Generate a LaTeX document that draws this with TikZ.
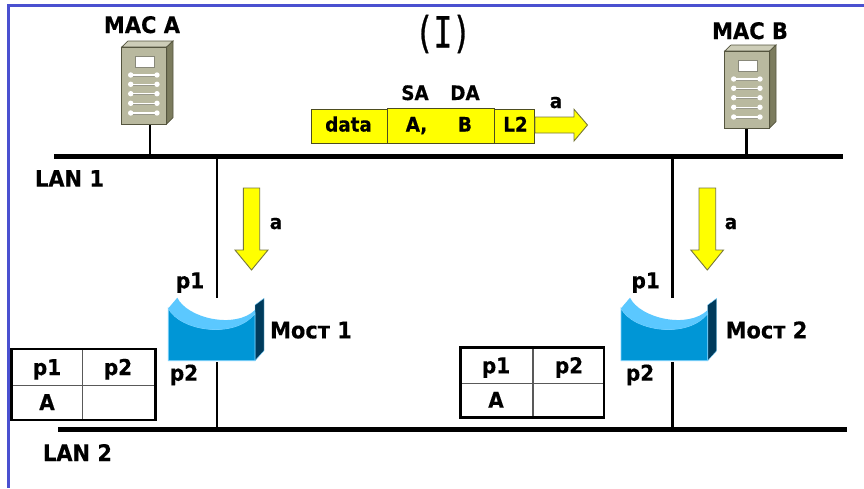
\documentclass[tikz,border=0pt]{standalone}
\usepackage{fontspec}
\setmainfont[BoldFeatures={FakeStretch=0.92,FakeBold=0.35}]{DejaVu Sans}
\newfontfamily\titlefont[FakeStretch=0.72,FakeBold=0.6]{DejaVu Sans Mono}
\definecolor{frameblue}{HTML}{4A50D0}
\definecolor{srvfront}{HTML}{B9B99F}
\definecolor{srvtop}{HTML}{CDCDB8}
\definecolor{srvside}{HTML}{7C7C5E}
\definecolor{srvedge}{HTML}{55553F}
\definecolor{brfront}{HTML}{0096D6}
\definecolor{brlight}{HTML}{5BC8FF}
\definecolor{brside}{HTML}{003B5C}
\definecolor{brrim}{HTML}{7FD4FF}
\definecolor{pktyellow}{HTML}{FFFF00}
\definecolor{pktedge}{HTML}{4D4D20}
\definecolor{arredge}{HTML}{77773A}
\tikzset{
  lbl/.style={anchor=base,inner sep=0pt,font=\fontsize{22.8}{23}\selectfont\bfseries},
  lblp/.style={anchor=base,inner sep=0pt,font=\fontsize{21.8}{22}\selectfont\bfseries},
  lbls/.style={anchor=base,inner sep=0pt,font=\fontsize{19.9}{20}\selectfont\bfseries},
  bus/.style={line width=5.5pt,black},
  drop/.style={line width=2.6pt,black},
  pkt/.style={draw=pktedge,line width=0.9pt,fill=pktyellow},
  yarrow/.style={draw=arredge,line width=0.9pt,fill=pktyellow},
  tblouter/.style={draw=black,line width=2.6pt},
  tblinner/.style={draw=black!65,line width=1.1pt},
  server/.pic={
    \fill[srvtop,draw=srvedge,line width=0.7pt] (0,0) -- (6.3,-6) -- (51.3,-6) -- (45,0) -- cycle;
    \fill[srvside,draw=srvedge,line width=0.7pt] (45,0) -- (51.3,-6) -- (51.3,70.5) -- (45,77) -- cycle;
    \fill[srvfront,draw=srvedge,line width=0.9pt] (0,0) rectangle (45,77);
    \fill[white,draw=srvedge!70,line width=0.6pt] (13.8,9) rectangle (33,20);
    \foreach \yy in {28,37.3,46.7,56.3,66}{
      \draw[white,line width=1.2pt] (9,\yy) -- (35.3,\yy);
      \draw[srvedge!60,line width=0.6pt] (9,\yy+1) -- (35.3,\yy+1);
      \fill[white] (9,\yy) circle (2.7) (35.3,\yy) circle (2.7);
    }
  },
  bridge/.pic={
    \fill[brside,draw=brrim,line width=0.4pt] (86.7,-3.3) -- (95.7,-10) -- (95.7,42.4) -- (86.7,52.4) -- cycle;
    \fill[brfront,draw=brrim,line width=0.7pt] (0,0) .. controls (12,23) and (67,31) .. (86.7,5) -- (86.7,52.4) -- (0,52.4) -- cycle;
    \fill[brlight] (0,0) -- (9,-10.6) .. controls (19,10) and (67,21) .. (86.7,1.7) -- (86.7,5) .. controls (67,31) and (12,23) .. (0,0) -- cycle;
  }
}
\begin{document}
\begin{tikzpicture}[x=1pt,y=-1pt]
\useasboundingbox[fill=white] (0,0) rectangle (864,488);
% slide frame
\fill[frameblue] (6.5,3.5) rectangle (864,6.8);
\fill[frameblue] (6.5,3.5) rectangle (9.6,488);

% coordinates
\coordinate (lan1w) at (54,156.7);
\coordinate (lan1e) at (843,156.7);
\coordinate (lan2w) at (58,429.5);
\coordinate (lan2e) at (847,429.5);
\coordinate (macAb) at (150,124);
\coordinate (macAt) at (150,156.7);
\coordinate (macBb) at (746.7,128);
\coordinate (macBt) at (746.7,156.7);
\coordinate (b1in) at (217,298);
\coordinate (b1out) at (217,362);
\coordinate (b1up) at (217,156.7);
\coordinate (b1dn) at (217,429.5);
\coordinate (b2in) at (672.7,298);
\coordinate (b2out) at (672.7,362);
\coordinate (b2up) at (672.7,156.7);
\coordinate (b2dn) at (672.7,429.5);

% connectors
\draw[drop] (macAb) -- (macAt);
\draw[drop] (macBb) -- (macBt);
\draw[drop] (b1up) -- (b1in);
\draw[drop] (b1out) -- (b1dn);
\draw[drop] (b2up) -- (b2in);
\draw[drop] (b2out) -- (b2dn);
\draw[bus] (lan1w) -- (lan1e);
\draw[bus] (lan2w) -- (lan2e);

% servers
\pic at (121.7,47) {server};
\pic at (724.7,51) {server};
\node[lbl] (macA) at (142,33) {MAC A};
\node[lbl] (macB) at (750,39) {MAC B};

% title
\node[anchor=base,inner sep=0pt,font=\fontsize{43}{43}\titlefont] (title) at (443,47.5) {(I)};

% frame
\draw[pkt] (311.3,109.3) rectangle (387,143);
\draw[pkt] (494.7,109.3) rectangle (534.7,143);
\draw[pkt] (387,108.3) rectangle (494.7,143);
\node[lbls] (fdata) at (348.5,131.5) {data};
\node[lbls] (fa) at (416.5,131.5) {A,};
\node[lbls] (fb) at (465,131.5) {B};
\node[lbls] (fl) at (515.5,131.5) {L2};
\node[lbls] (sa) at (415,100) {SA};
\node[lbls] (da) at (465,100) {DA};
\node[lbls] (aright) at (556,108) {a};
\draw[yarrow] (535,117) -- (574,117) -- (574,109.3) -- (587.5,125) -- (574,141) -- (574,133) -- (535,133) -- cycle;

% down arrows
\draw[yarrow] (243.3,188) -- (259.7,188) -- (259.7,250) -- (268,250) -- (251.5,270) -- (235,250) -- (243.3,250) -- cycle;
\draw[yarrow] (699,188) -- (715.7,188) -- (715.7,250) -- (723.5,250) -- (707.3,270) -- (690.8,250) -- (699,250) -- cycle;
\node[lbls] (a1) at (276,229) {a};
\node[lbls] (a2) at (731,229) {a};

% bus labels
\node[lbl] (lan1) at (69.5,186.7) {LAN 1};
\node[lbl] (lan2) at (77.5,461) {LAN 2};

% bridges
\pic at (168.3,308.3) {bridge};
\pic at (621,308.3) {bridge};
\node[lblp] (b1p1) at (190,288.3) {p1};
\node[lblp] (b1p2) at (184,380.7) {p2};
\node[lblp] (b2p1) at (645.7,288.3) {p1};
\node[lblp] (b2p2) at (640,380.7) {p2};
\node[lbl] (most1) at (311,338.3) {Мост 1};
\node[lbl] (most2) at (766.5,338.3) {Мост 2};

% tables
\draw[tblinner] (11.7,385.3) -- (155.7,385.3) (82.7,349) -- (82.7,420);
\draw[tblouter] (11.7,349) rectangle (155.7,420);
\node[lblp] (t1a) at (47,375) {p1};
\node[lblp] (t1b) at (118,375) {p2};
\node[lblp] (t1c) at (47,410) {A};
\draw[tblinner] (460.7,383.3) -- (604,383.3) (533,347.3) -- (533,417.7);
\draw[tblouter] (460.7,347.3) rectangle (604,417.7);
\node[lblp] (t2a) at (496,373.3) {p1};
\node[lblp] (t2b) at (569,373.3) {p2};
\node[lblp] (t2c) at (496,407.7) {A};
\end{tikzpicture}
\end{document}
